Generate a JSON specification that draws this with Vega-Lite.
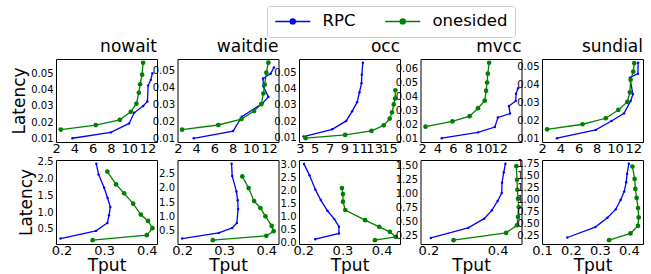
{
"$schema": "https://vega.github.io/schema/vega-lite/v6.json",
"padding": {"left": 10, "top": 5, "right": 0, "bottom": 0},
"config": {
 "font": "DejaVu Sans",
 "view": {"stroke": "black", "strokeWidth": 1},
 "axis": {"domain": false, "grid": false, "ticks": false, "labelPadding": 3, "labelColor": "black", "titleColor": "black", "titleFontWeight": "normal", "labelFontSize": 10, "titleFontSize": 17, "labelOverlap": false, "labelFlush": false, "labelBound": false, "titlePadding": 2},
 "axisX": {"labelPadding": 0, "titlePadding": 0},
 "title": {"fontSize": 17, "fontWeight": "normal", "anchor": "end", "offset": 3, "color": "black"}
},
"datasets": {"d": [
{"p":"t1","s":"RPC","i":0,"x":3.79,"y":0.0102},{"p":"t1","s":"RPC","i":1,"x":7.99,"y":0.0138},{"p":"t1","s":"RPC","i":2,"x":10.0,"y":0.0193},{"p":"t1","s":"RPC","i":3,"x":10.55,"y":0.0258},{"p":"t1","s":"RPC","i":4,"x":11.53,"y":0.030},{"p":"t1","s":"RPC","i":5,"x":12.0,"y":0.0328},{"p":"t1","s":"RPC","i":6,"x":12.08,"y":0.0425},{"p":"t1","s":"RPC","i":7,"x":12.37,"y":0.046},{"p":"t1","s":"RPC","i":8,"x":12.55,"y":0.050},
{"p":"t1","s":"onesided","i":0,"x":2.52,"y":0.0155},{"p":"t1","s":"onesided","i":1,"x":6.35,"y":0.0183},{"p":"t1","s":"onesided","i":2,"x":8.98,"y":0.0215},{"p":"t1","s":"onesided","i":3,"x":10.18,"y":0.0264},{"p":"t1","s":"onesided","i":4,"x":10.8,"y":0.0314},{"p":"t1","s":"onesided","i":5,"x":11.06,"y":0.0381},{"p":"t1","s":"onesided","i":6,"x":11.2,"y":0.0433},{"p":"t1","s":"onesided","i":7,"x":11.42,"y":0.0492},{"p":"t1","s":"onesided","i":8,"x":11.53,"y":0.0565},
{"p":"t2","s":"RPC","i":0,"x":3.74,"y":0.010},{"p":"t2","s":"RPC","i":1,"x":8.06,"y":0.0143},{"p":"t2","s":"RPC","i":2,"x":9.01,"y":0.0228},{"p":"t2","s":"RPC","i":3,"x":11.26,"y":0.0307},{"p":"t2","s":"RPC","i":4,"x":11.92,"y":0.0346},{"p":"t2","s":"RPC","i":5,"x":11.37,"y":0.0409},{"p":"t2","s":"RPC","i":6,"x":11.34,"y":0.0455},{"p":"t2","s":"RPC","i":7,"x":12.17,"y":0.0484},{"p":"t2","s":"RPC","i":8,"x":12.53,"y":0.052},
{"p":"t2","s":"onesided","i":0,"x":2.46,"y":0.0151},{"p":"t2","s":"onesided","i":1,"x":6.43,"y":0.0179},{"p":"t2","s":"onesided","i":2,"x":8.97,"y":0.0214},{"p":"t2","s":"onesided","i":3,"x":10.35,"y":0.0262},{"p":"t2","s":"onesided","i":4,"x":11.15,"y":0.0303},{"p":"t2","s":"onesided","i":5,"x":11.37,"y":0.0366},{"p":"t2","s":"onesided","i":6,"x":11.52,"y":0.0419},{"p":"t2","s":"onesided","i":7,"x":11.7,"y":0.049},{"p":"t2","s":"onesided","i":8,"x":11.92,"y":0.0549},
{"p":"t3","s":"RPC","i":0,"x":3.51,"y":0.0108},{"p":"t3","s":"RPC","i":1,"x":7.36,"y":0.0152},{"p":"t3","s":"RPC","i":2,"x":9.24,"y":0.0203},{"p":"t3","s":"RPC","i":3,"x":10.04,"y":0.0261},{"p":"t3","s":"RPC","i":4,"x":10.71,"y":0.0317},{"p":"t3","s":"RPC","i":5,"x":11.03,"y":0.0377},{"p":"t3","s":"RPC","i":6,"x":11.3,"y":0.0432},{"p":"t3","s":"RPC","i":7,"x":11.34,"y":0.0484},{"p":"t3","s":"RPC","i":8,"x":11.48,"y":0.0556},
{"p":"t3","s":"onesided","i":0,"x":3.78,"y":0.0098},{"p":"t3","s":"onesided","i":1,"x":9.1,"y":0.0118},{"p":"t3","s":"onesided","i":2,"x":12.64,"y":0.0142},{"p":"t3","s":"onesided","i":3,"x":14.3,"y":0.0176},{"p":"t3","s":"onesided","i":4,"x":15.1,"y":0.0217},{"p":"t3","s":"onesided","i":5,"x":15.41,"y":0.0255},{"p":"t3","s":"onesided","i":6,"x":15.64,"y":0.0303},{"p":"t3","s":"onesided","i":7,"x":15.82,"y":0.0339},{"p":"t3","s":"onesided","i":8,"x":15.86,"y":0.0389},
{"p":"t4","s":"RPC","i":0,"x":4.55,"y":0.010},{"p":"t4","s":"RPC","i":1,"x":9.26,"y":0.0142},{"p":"t4","s":"RPC","i":2,"x":11.44,"y":0.018},{"p":"t4","s":"RPC","i":3,"x":11.84,"y":0.0249},{"p":"t4","s":"RPC","i":4,"x":13.41,"y":0.0277},{"p":"t4","s":"RPC","i":5,"x":13.27,"y":0.0331},{"p":"t4","s":"RPC","i":6,"x":14.15,"y":0.0367},{"p":"t4","s":"RPC","i":7,"x":14.19,"y":0.0418},{"p":"t4","s":"RPC","i":8,"x":14.45,"y":0.0458},
{"p":"t4","s":"onesided","i":0,"x":2.45,"y":0.0183},{"p":"t4","s":"onesided","i":1,"x":5.94,"y":0.022},{"p":"t4","s":"onesided","i":2,"x":8.17,"y":0.0258},{"p":"t4","s":"onesided","i":3,"x":9.26,"y":0.0315},{"p":"t4","s":"onesided","i":4,"x":10.13,"y":0.0369},{"p":"t4","s":"onesided","i":5,"x":10.31,"y":0.044},{"p":"t4","s":"onesided","i":6,"x":10.44,"y":0.0499},{"p":"t4","s":"onesided","i":7,"x":10.53,"y":0.0562},{"p":"t4","s":"onesided","i":8,"x":10.7,"y":0.064},
{"p":"t5","s":"RPC","i":0,"x":3.64,"y":0.0102},{"p":"t5","s":"RPC","i":1,"x":7.9,"y":0.0148},{"p":"t5","s":"RPC","i":2,"x":9.61,"y":0.0197},{"p":"t5","s":"RPC","i":3,"x":11.0,"y":0.0239},{"p":"t5","s":"RPC","i":4,"x":11.72,"y":0.0307},{"p":"t5","s":"RPC","i":5,"x":11.97,"y":0.0344},{"p":"t5","s":"RPC","i":6,"x":11.64,"y":0.0436},{"p":"t5","s":"RPC","i":7,"x":12.52,"y":0.0458},{"p":"t5","s":"RPC","i":8,"x":12.55,"y":0.0518},
{"p":"t5","s":"onesided","i":0,"x":2.55,"y":0.0151},{"p":"t5","s":"onesided","i":1,"x":6.44,"y":0.0179},{"p":"t5","s":"onesided","i":2,"x":8.99,"y":0.0212},{"p":"t5","s":"onesided","i":3,"x":10.37,"y":0.0258},{"p":"t5","s":"onesided","i":4,"x":11.35,"y":0.0302},{"p":"t5","s":"onesided","i":5,"x":11.64,"y":0.0355},{"p":"t5","s":"onesided","i":6,"x":11.72,"y":0.0424},{"p":"t5","s":"onesided","i":7,"x":12.01,"y":0.0469},{"p":"t5","s":"onesided","i":8,"x":12.12,"y":0.0516},
{"p":"b1","s":"RPC","i":0,"x":0.1976,"y":0.214},{"p":"b1","s":"RPC","i":1,"x":0.2808,"y":0.441},{"p":"b1","s":"RPC","i":2,"x":0.3075,"y":0.677},{"p":"b1","s":"RPC","i":3,"x":0.3114,"y":0.904},{"p":"b1","s":"RPC","i":4,"x":0.3145,"y":1.15},{"p":"b1","s":"RPC","i":5,"x":0.308,"y":1.416},{"p":"b1","s":"RPC","i":6,"x":0.300,"y":1.72},{"p":"b1","s":"RPC","i":7,"x":0.287,"y":2.11},{"p":"b1","s":"RPC","i":8,"x":0.2816,"y":2.43},
{"p":"b1","s":"onesided","i":0,"x":0.273,"y":0.165},{"p":"b1","s":"onesided","i":1,"x":0.4,"y":0.313},{"p":"b1","s":"onesided","i":2,"x":0.4133,"y":0.52},{"p":"b1","s":"onesided","i":3,"x":0.403,"y":0.736},{"p":"b1","s":"onesided","i":4,"x":0.386,"y":0.924},{"p":"b1","s":"onesided","i":5,"x":0.368,"y":1.249},{"p":"b1","s":"onesided","i":6,"x":0.347,"y":1.554},{"p":"b1","s":"onesided","i":7,"x":0.328,"y":1.82},{"p":"b1","s":"onesided","i":8,"x":0.3075,"y":2.2},
{"p":"b2","s":"RPC","i":0,"x":0.2,"y":0.206},{"p":"b2","s":"RPC","i":1,"x":0.287,"y":0.406},{"p":"b2","s":"RPC","i":2,"x":0.319,"y":0.582},{"p":"b2","s":"RPC","i":3,"x":0.330,"y":0.759},{"p":"b2","s":"RPC","i":4,"x":0.333,"y":1.253},{"p":"b2","s":"RPC","i":5,"x":0.332,"y":1.559},{"p":"b2","s":"RPC","i":6,"x":0.329,"y":1.876},{"p":"b2","s":"RPC","i":7,"x":0.319,"y":2.418},{"p":"b2","s":"RPC","i":8,"x":0.3175,"y":2.853},
{"p":"b2","s":"onesided","i":0,"x":0.273,"y":0.147},{"p":"b2","s":"onesided","i":1,"x":0.4,"y":0.3},{"p":"b2","s":"onesided","i":2,"x":0.4175,"y":0.465},{"p":"b2","s":"onesided","i":3,"x":0.4127,"y":0.653},{"p":"b2","s":"onesided","i":4,"x":0.398,"y":0.994},{"p":"b2","s":"onesided","i":5,"x":0.386,"y":1.288},{"p":"b2","s":"onesided","i":6,"x":0.371,"y":1.535},{"p":"b2","s":"onesided","i":7,"x":0.358,"y":1.994},{"p":"b2","s":"onesided","i":8,"x":0.343,"y":2.406},
{"p":"b3","s":"RPC","i":0,"x":0.2017,"y":3.03},{"p":"b3","s":"RPC","i":1,"x":0.216,"y":2.59},{"p":"b3","s":"RPC","i":2,"x":0.231,"y":2.04},{"p":"b3","s":"RPC","i":3,"x":0.2447,"y":1.64},{"p":"b3","s":"RPC","i":4,"x":0.2616,"y":1.23},{"p":"b3","s":"RPC","i":5,"x":0.2793,"y":0.91},{"p":"b3","s":"RPC","i":6,"x":0.2911,"y":0.615},{"p":"b3","s":"RPC","i":7,"x":0.2911,"y":0.36},{"p":"b3","s":"RPC","i":8,"x":0.2304,"y":0.14},
{"p":"b3","s":"onesided","i":0,"x":0.2987,"y":2.10},{"p":"b3","s":"onesided","i":1,"x":0.3013,"y":1.87},{"p":"b3","s":"onesided","i":2,"x":0.3013,"y":1.58},{"p":"b3","s":"onesided","i":3,"x":0.3072,"y":1.26},{"p":"b3","s":"onesided","i":4,"x":0.3578,"y":0.87},{"p":"b3","s":"onesided","i":5,"x":0.394,"y":0.615},{"p":"b3","s":"onesided","i":6,"x":0.421,"y":0.42},{"p":"b3","s":"onesided","i":7,"x":0.436,"y":0.23},{"p":"b3","s":"onesided","i":8,"x":0.383,"y":0.10},
{"p":"b4","s":"RPC","i":0,"x":0.2069,"y":0.210},{"p":"b4","s":"RPC","i":1,"x":0.3147,"y":0.388},{"p":"b4","s":"RPC","i":2,"x":0.361,"y":0.553},{"p":"b4","s":"RPC","i":3,"x":0.3833,"y":0.701},{"p":"b4","s":"RPC","i":4,"x":0.40,"y":0.867},{"p":"b4","s":"RPC","i":5,"x":0.4118,"y":1.009},{"p":"b4","s":"RPC","i":6,"x":0.4127,"y":1.192},{"p":"b4","s":"RPC","i":7,"x":0.4176,"y":1.376},{"p":"b4","s":"RPC","i":8,"x":0.4225,"y":1.53},
{"p":"b4","s":"onesided","i":0,"x":0.2725,"y":0.169},{"p":"b4","s":"onesided","i":1,"x":0.4245,"y":0.299},{"p":"b4","s":"onesided","i":2,"x":0.456,"y":0.435},{"p":"b4","s":"onesided","i":3,"x":0.459,"y":0.583},{"p":"b4","s":"onesided","i":4,"x":0.461,"y":0.76},{"p":"b4","s":"onesided","i":5,"x":0.459,"y":0.908},{"p":"b4","s":"onesided","i":6,"x":0.457,"y":1.068},{"p":"b4","s":"onesided","i":7,"x":0.456,"y":1.246},{"p":"b4","s":"onesided","i":8,"x":0.454,"y":1.488},
{"p":"b5","s":"RPC","i":0,"x":0.1875,"y":0.219},{"p":"b5","s":"RPC","i":1,"x":0.284,"y":0.433},{"p":"b5","s":"RPC","i":2,"x":0.326,"y":0.626},{"p":"b5","s":"RPC","i":3,"x":0.3545,"y":0.798},{"p":"b5","s":"RPC","i":4,"x":0.3716,"y":0.991},{"p":"b5","s":"RPC","i":5,"x":0.384,"y":1.164},{"p":"b5","s":"RPC","i":6,"x":0.391,"y":1.357},{"p":"b5","s":"RPC","i":7,"x":0.394,"y":1.529},{"p":"b5","s":"RPC","i":8,"x":0.40,"y":1.736},
{"p":"b5","s":"onesided","i":0,"x":0.3318,"y":0.164},{"p":"b5","s":"onesided","i":1,"x":0.4057,"y":0.302},{"p":"b5","s":"onesided","i":2,"x":0.4318,"y":0.46},{"p":"b5","s":"onesided","i":3,"x":0.434,"y":0.633},{"p":"b5","s":"onesided","i":4,"x":0.4318,"y":0.826},{"p":"b5","s":"onesided","i":5,"x":0.427,"y":1.033},{"p":"b5","s":"onesided","i":6,"x":0.4227,"y":1.219},{"p":"b5","s":"onesided","i":7,"x":0.42,"y":1.426},{"p":"b5","s":"onesided","i":8,"x":0.4125,"y":1.681}
]},
"data": {"name": "d"},
"bounds": "flush",
"columns": 5,
"spacing": {"row": 18, "column": 20.5},
"resolve": {"scale": {"x": "independent", "y": "independent", "color": "shared"}},
"concat": [
 {"width": 101, "height": 83, "title": "nowait", "transform": [{"filter": "datum.p === 't1'"}],
  "encoding": {
   "x": {"field": "x", "type": "quantitative", "scale": {"domain": [1.99, 13.05], "nice": false, "zero": false}, "axis": {"values": [2,4,6,8,10,12], "title": null, "labelFontSize": 13}},
   "y": {"field": "y", "type": "quantitative", "scale": {"domain": [0.0079, 0.0588], "nice": false, "zero": false}, "axis": {"values": [0.01,0.02,0.03,0.04,0.05], "format": ".2f", "title": "Latency"}},
   "color": {"field": "s", "type": "nominal", "scale": {"domain": ["RPC","onesided"], "range": ["#0000ff","#008000"]}, "legend": {"title": null, "orient": "none", "legendX": 211, "legendY": -53, "direction": "horizontal", "symbolType": "M-1,0H4M1.85,0A0.35,0.35,0,1,1,1.15,0A0.35,0.35,0,1,1,1.85,0Z", "symbolSize": 196, "symbolStrokeWidth": 1.5, "labelFontSize": 16.5, "labelColor": "black", "strokeColor": "#cccccc", "fillColor": "white", "padding": 7, "cornerRadius": 3, "columnPadding": 26, "labelOffset": 32}},
   "order": {"field": "i", "type": "quantitative"}},
  "layer": [{"mark": {"type": "line", "strokeWidth": 1.3}}, {"mark": {"type": "point", "filled": true, "opacity": 1}, "encoding": {"size": {"condition": {"test": "datum.s === 'RPC'", "value": 6}, "value": 22}}}]},
 {"width": 101, "height": 83, "title": "waitdie", "transform": [{"filter": "datum.p === 't2'"}],
  "encoding": {
   "x": {"field": "x", "type": "quantitative", "scale": {"domain": [1.96, 13.03], "nice": false, "zero": false}, "axis": {"values": [2,4,6,8,10,12], "title": null, "labelFontSize": 13}},
   "y": {"field": "y", "type": "quantitative", "scale": {"domain": [0.0078, 0.0571], "nice": false, "zero": false}, "axis": {"values": [0.01,0.02,0.03,0.04,0.05], "format": ".2f", "title": null}},
   "color": {"field": "s", "type": "nominal", "scale": {"domain": ["RPC","onesided"], "range": ["#0000ff","#008000"]}, "legend": {"title": null, "orient": "none", "legendX": 211, "legendY": -53, "direction": "horizontal", "symbolType": "M-1,0H4M1.85,0A0.35,0.35,0,1,1,1.15,0A0.35,0.35,0,1,1,1.85,0Z", "symbolSize": 196, "symbolStrokeWidth": 1.5, "labelFontSize": 16.5, "labelColor": "black", "strokeColor": "#cccccc", "fillColor": "white", "padding": 7, "cornerRadius": 3, "columnPadding": 26, "labelOffset": 32}},
   "order": {"field": "i", "type": "quantitative"}},
  "layer": [{"mark": {"type": "line", "strokeWidth": 1.3}}, {"mark": {"type": "point", "filled": true, "opacity": 1}, "encoding": {"size": {"condition": {"test": "datum.s === 'RPC'", "value": 6}, "value": 22}}}]},
 {"width": 101, "height": 83, "title": "occ", "transform": [{"filter": "datum.p === 't3'"}],
  "encoding": {
   "x": {"field": "x", "type": "quantitative", "scale": {"domain": [2.89, 16.48], "nice": false, "zero": false}, "axis": {"values": [3,5,7,9,11,13,15], "title": null, "labelFontSize": 13}},
   "y": {"field": "y", "type": "quantitative", "scale": {"domain": [0.0075, 0.0579], "nice": false, "zero": false}, "axis": {"values": [0.01,0.02,0.03,0.04,0.05], "format": ".2f", "title": null}},
   "color": {"field": "s", "type": "nominal", "scale": {"domain": ["RPC","onesided"], "range": ["#0000ff","#008000"]}, "legend": {"title": null, "orient": "none", "legendX": 211, "legendY": -53, "direction": "horizontal", "symbolType": "M-1,0H4M1.85,0A0.35,0.35,0,1,1,1.15,0A0.35,0.35,0,1,1,1.85,0Z", "symbolSize": 196, "symbolStrokeWidth": 1.5, "labelFontSize": 16.5, "labelColor": "black", "strokeColor": "#cccccc", "fillColor": "white", "padding": 7, "cornerRadius": 3, "columnPadding": 26, "labelOffset": 32}},
   "order": {"field": "i", "type": "quantitative"}},
  "layer": [{"mark": {"type": "line", "strokeWidth": 1.3}}, {"mark": {"type": "point", "filled": true, "opacity": 1}, "encoding": {"size": {"condition": {"test": "datum.s === 'RPC'", "value": 6}, "value": 22}}}]},
 {"width": 101, "height": 83, "title": "mvcc", "transform": [{"filter": "datum.p === 't4'"}],
  "encoding": {
   "x": {"field": "x", "type": "quantitative", "scale": {"domain": [1.8, 14.9], "nice": false, "zero": false}, "axis": {"values": [2,4,6,8,10,12], "title": null, "labelFontSize": 13}},
   "y": {"field": "y", "type": "quantitative", "scale": {"domain": [0.0073, 0.0667], "nice": false, "zero": false}, "axis": {"values": [0.01,0.02,0.03,0.04,0.05,0.06], "format": ".2f", "title": null}},
   "color": {"field": "s", "type": "nominal", "scale": {"domain": ["RPC","onesided"], "range": ["#0000ff","#008000"]}, "legend": {"title": null, "orient": "none", "legendX": 211, "legendY": -53, "direction": "horizontal", "symbolType": "M-1,0H4M1.85,0A0.35,0.35,0,1,1,1.15,0A0.35,0.35,0,1,1,1.85,0Z", "symbolSize": 196, "symbolStrokeWidth": 1.5, "labelFontSize": 16.5, "labelColor": "black", "strokeColor": "#cccccc", "fillColor": "white", "padding": 7, "cornerRadius": 3, "columnPadding": 26, "labelOffset": 32}},
   "order": {"field": "i", "type": "quantitative"}},
  "layer": [{"mark": {"type": "line", "strokeWidth": 1.3}}, {"mark": {"type": "point", "filled": true, "opacity": 1}, "encoding": {"size": {"condition": {"test": "datum.s === 'RPC'", "value": 6}, "value": 22}}}]},
 {"width": 101, "height": 83, "title": "sundial", "transform": [{"filter": "datum.p === 't5'"}],
  "encoding": {
   "x": {"field": "x", "type": "quantitative", "scale": {"domain": [1.99, 13.08], "nice": false, "zero": false}, "axis": {"values": [2,4,6,8,10,12], "title": null, "labelFontSize": 13}},
   "y": {"field": "y", "type": "quantitative", "scale": {"domain": [0.0081, 0.0539], "nice": false, "zero": false}, "axis": {"values": [0.01,0.02,0.03,0.04,0.05], "format": ".2f", "title": null}},
   "color": {"field": "s", "type": "nominal", "scale": {"domain": ["RPC","onesided"], "range": ["#0000ff","#008000"]}, "legend": {"title": null, "orient": "none", "legendX": 211, "legendY": -53, "direction": "horizontal", "symbolType": "M-1,0H4M1.85,0A0.35,0.35,0,1,1,1.15,0A0.35,0.35,0,1,1,1.85,0Z", "symbolSize": 196, "symbolStrokeWidth": 1.5, "labelFontSize": 16.5, "labelColor": "black", "strokeColor": "#cccccc", "fillColor": "white", "padding": 7, "cornerRadius": 3, "columnPadding": 26, "labelOffset": 32}},
   "order": {"field": "i", "type": "quantitative"}},
  "layer": [{"mark": {"type": "line", "strokeWidth": 1.3}}, {"mark": {"type": "point", "filled": true, "opacity": 1}, "encoding": {"size": {"condition": {"test": "datum.s === 'RPC'", "value": 6}, "value": 22}}}]},
 {"width": 101, "height": 84, "transform": [{"filter": "datum.p === 'b1'"}],
  "encoding": {
   "x": {"field": "x", "type": "quantitative", "scale": {"domain": [0.187, 0.424], "nice": false, "zero": false}, "axis": {"values": [0.2,0.3,0.4], "format": ".1f", "title": "Tput", "labelFontSize": 13}},
   "y": {"field": "y", "type": "quantitative", "scale": {"domain": [0.052, 2.543], "nice": false, "zero": false}, "axis": {"values": [0.5,1.0,1.5,2.0,2.5], "format": ".1f", "title": "Latency"}},
   "color": {"field": "s", "type": "nominal", "scale": {"domain": ["RPC","onesided"], "range": ["#0000ff","#008000"]}, "legend": {"title": null, "orient": "none", "legendX": 211, "legendY": -53, "direction": "horizontal", "symbolType": "M-1,0H4M1.85,0A0.35,0.35,0,1,1,1.15,0A0.35,0.35,0,1,1,1.85,0Z", "symbolSize": 196, "symbolStrokeWidth": 1.5, "labelFontSize": 16.5, "labelColor": "black", "strokeColor": "#cccccc", "fillColor": "white", "padding": 7, "cornerRadius": 3, "columnPadding": 26, "labelOffset": 32}},
   "order": {"field": "i", "type": "quantitative"}},
  "layer": [{"mark": {"type": "line", "strokeWidth": 1.3}}, {"mark": {"type": "point", "filled": true, "opacity": 1}, "encoding": {"size": {"condition": {"test": "datum.s === 'RPC'", "value": 6}, "value": 22}}}]},
 {"width": 101, "height": 84, "transform": [{"filter": "datum.p === 'b2'"}],
  "encoding": {
   "x": {"field": "x", "type": "quantitative", "scale": {"domain": [0.189, 0.429], "nice": false, "zero": false}, "axis": {"values": [0.2,0.3,0.4], "format": ".1f", "title": "Tput", "labelFontSize": 13}},
   "y": {"field": "y", "type": "quantitative", "scale": {"domain": [0.012, 2.988], "nice": false, "zero": false}, "axis": {"values": [0.5,1.0,1.5,2.0,2.5], "format": ".1f", "title": null}},
   "color": {"field": "s", "type": "nominal", "scale": {"domain": ["RPC","onesided"], "range": ["#0000ff","#008000"]}, "legend": {"title": null, "orient": "none", "legendX": 211, "legendY": -53, "direction": "horizontal", "symbolType": "M-1,0H4M1.85,0A0.35,0.35,0,1,1,1.15,0A0.35,0.35,0,1,1,1.85,0Z", "symbolSize": 196, "symbolStrokeWidth": 1.5, "labelFontSize": 16.5, "labelColor": "black", "strokeColor": "#cccccc", "fillColor": "white", "padding": 7, "cornerRadius": 3, "columnPadding": 26, "labelOffset": 32}},
   "order": {"field": "i", "type": "quantitative"}},
  "layer": [{"mark": {"type": "line", "strokeWidth": 1.3}}, {"mark": {"type": "point", "filled": true, "opacity": 1}, "encoding": {"size": {"condition": {"test": "datum.s === 'RPC'", "value": 6}, "value": 22}}}]},
 {"width": 101, "height": 84, "transform": [{"filter": "datum.p === 'b3'"}],
  "encoding": {
   "x": {"field": "x", "type": "quantitative", "scale": {"domain": [0.189, 0.447], "nice": false, "zero": false}, "axis": {"values": [0.2,0.3,0.4], "format": ".1f", "title": "Tput", "labelFontSize": 13}},
   "y": {"field": "y", "type": "quantitative", "scale": {"domain": [-0.046, 3.18], "nice": false, "zero": false}, "axis": {"values": [0,0.5,1.0,1.5,2.0,2.5,3.0], "format": ".1f", "title": null}},
   "color": {"field": "s", "type": "nominal", "scale": {"domain": ["RPC","onesided"], "range": ["#0000ff","#008000"]}, "legend": {"title": null, "orient": "none", "legendX": 211, "legendY": -53, "direction": "horizontal", "symbolType": "M-1,0H4M1.85,0A0.35,0.35,0,1,1,1.15,0A0.35,0.35,0,1,1,1.85,0Z", "symbolSize": 196, "symbolStrokeWidth": 1.5, "labelFontSize": 16.5, "labelColor": "black", "strokeColor": "#cccccc", "fillColor": "white", "padding": 7, "cornerRadius": 3, "columnPadding": 26, "labelOffset": 32}},
   "order": {"field": "i", "type": "quantitative"}},
  "layer": [{"mark": {"type": "line", "strokeWidth": 1.3}}, {"mark": {"type": "point", "filled": true, "opacity": 1}, "encoding": {"size": {"condition": {"test": "datum.s === 'RPC'", "value": 6}, "value": 22}}}]},
 {"width": 101, "height": 84, "transform": [{"filter": "datum.p === 'b4'"}],
  "encoding": {
   "x": {"field": "x", "type": "quantitative", "scale": {"domain": [0.177, 0.469], "nice": false, "zero": false}, "axis": {"values": [0.2,0.4], "format": ".1f", "title": "Tput", "labelFontSize": 13}},
   "y": {"field": "y", "type": "quantitative", "scale": {"domain": [0.101, 1.598], "nice": false, "zero": false}, "axis": {"values": [0.25,0.5,0.75,1.0,1.25,1.5], "format": ".2f", "title": null}},
   "color": {"field": "s", "type": "nominal", "scale": {"domain": ["RPC","onesided"], "range": ["#0000ff","#008000"]}, "legend": {"title": null, "orient": "none", "legendX": 211, "legendY": -53, "direction": "horizontal", "symbolType": "M-1,0H4M1.85,0A0.35,0.35,0,1,1,1.15,0A0.35,0.35,0,1,1,1.85,0Z", "symbolSize": 196, "symbolStrokeWidth": 1.5, "labelFontSize": 16.5, "labelColor": "black", "strokeColor": "#cccccc", "fillColor": "white", "padding": 7, "cornerRadius": 3, "columnPadding": 26, "labelOffset": 32}},
   "order": {"field": "i", "type": "quantitative"}},
  "layer": [{"mark": {"type": "line", "strokeWidth": 1.3}}, {"mark": {"type": "point", "filled": true, "opacity": 1}, "encoding": {"size": {"condition": {"test": "datum.s === 'RPC'", "value": 6}, "value": 22}}}]},
 {"width": 101, "height": 84, "transform": [{"filter": "datum.p === 'b5'"}],
  "encoding": {
   "x": {"field": "x", "type": "quantitative", "scale": {"domain": [0.1, 0.449], "nice": false, "zero": false}, "axis": {"values": [0.1,0.2,0.3,0.4], "format": ".1f", "title": "Tput", "labelFontSize": 13}},
   "y": {"field": "y", "type": "quantitative", "scale": {"domain": [0.085, 1.815], "nice": false, "zero": false}, "axis": {"values": [0.25,0.5,0.75,1.0,1.25,1.5,1.75], "format": ".2f", "title": null}},
   "color": {"field": "s", "type": "nominal", "scale": {"domain": ["RPC","onesided"], "range": ["#0000ff","#008000"]}, "legend": {"title": null, "orient": "none", "legendX": 211, "legendY": -53, "direction": "horizontal", "symbolType": "M-1,0H4M1.85,0A0.35,0.35,0,1,1,1.15,0A0.35,0.35,0,1,1,1.85,0Z", "symbolSize": 196, "symbolStrokeWidth": 1.5, "labelFontSize": 16.5, "labelColor": "black", "strokeColor": "#cccccc", "fillColor": "white", "padding": 7, "cornerRadius": 3, "columnPadding": 26, "labelOffset": 32}},
   "order": {"field": "i", "type": "quantitative"}},
  "layer": [{"mark": {"type": "line", "strokeWidth": 1.3}}, {"mark": {"type": "point", "filled": true, "opacity": 1}, "encoding": {"size": {"condition": {"test": "datum.s === 'RPC'", "value": 6}, "value": 22}}}]}
]
}
